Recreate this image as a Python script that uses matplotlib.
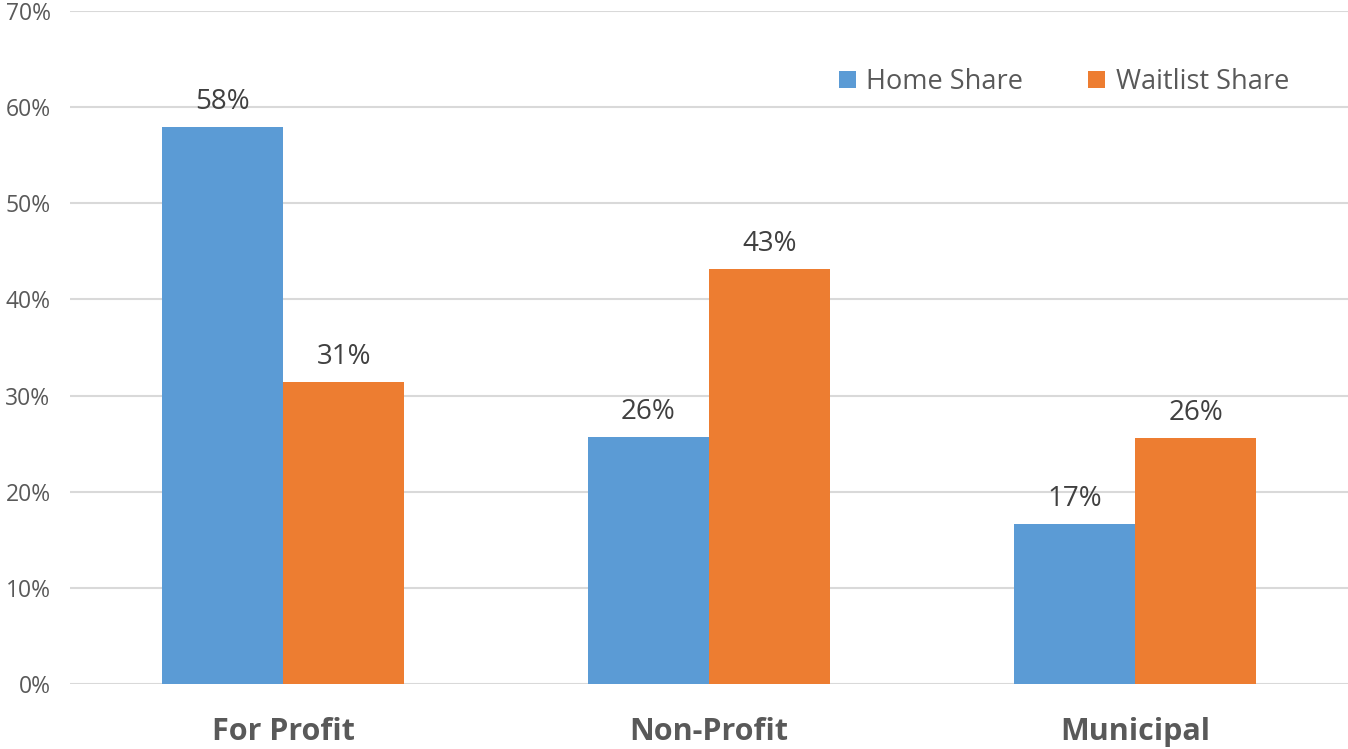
import numpy as np
import matplotlib
matplotlib.use('Agg')
import matplotlib.pyplot as plt

categories = ['For Profit', 'Non-Profit', 'Municipal']
home_share = [57.9, 25.7, 16.6]
waitlist_share = [31.4, 43.2, 25.6]
home_labels = ['58%', '26%', '17%']
waitlist_labels = ['31%', '43%', '26%']
yticks = [0, 10, 20, 30, 40, 50, 60, 70]

plt.rcParams['font.family'] = ['Open Sans', 'DejaVu Sans']

blue = '#5B9BD5'
orange = '#ED7D31'

fig = plt.figure(figsize=(13.48, 7.49), dpi=100)
ax = fig.add_axes([0.0519, 0.0868, 0.9481, 0.8985])

x = np.arange(len(categories))
w = 0.285
b1 = ax.bar(x - w / 2, home_share, w, color=blue, label='Home Share', zorder=3)
b2 = ax.bar(x + w / 2, waitlist_share, w, color=orange, label='Waitlist Share', zorder=3)

for bars, labels in ((b1, home_labels), (b2, waitlist_labels)):
    for rect, lab in zip(bars, labels):
        ax.annotate(lab, (rect.get_x() + rect.get_width() / 2, rect.get_height()),
                    xytext=(0, 8), textcoords='offset points', ha='center',
                    va='bottom', fontsize=20, color='#404040')

ax.set_xlim(-0.5, 2.5)
ax.set_ylim(0, 70)
ax.set_yticks(yticks)
ax.set_yticklabels([f'{t}%' for t in yticks], fontsize=16.5, color='#595959')
ax.set_xticks(x)
ax.set_xticklabels(categories, fontsize=22, fontweight='bold', color='#595959')
ax.tick_params(axis='both', length=0)
ax.tick_params(axis='y', pad=14)
ax.tick_params(axis='x', pad=24)
ax.yaxis.grid(True, color='#D9D9D9', linewidth=1.5, zorder=0)
ax.set_axisbelow(True)
for s in ax.spines.values():
    s.set_visible(False)

leg = ax.legend(loc='upper left', bbox_to_anchor=(0.602, 0.915), ncol=2, frameon=False,
                fontsize=19.5, handlelength=0.6, handleheight=0.6, handletextpad=0.4,
                columnspacing=2.4, borderaxespad=0, borderpad=0)
for t in leg.get_texts():
    t.set_color('#595959')

fig.savefig('out.png', dpi=100)
